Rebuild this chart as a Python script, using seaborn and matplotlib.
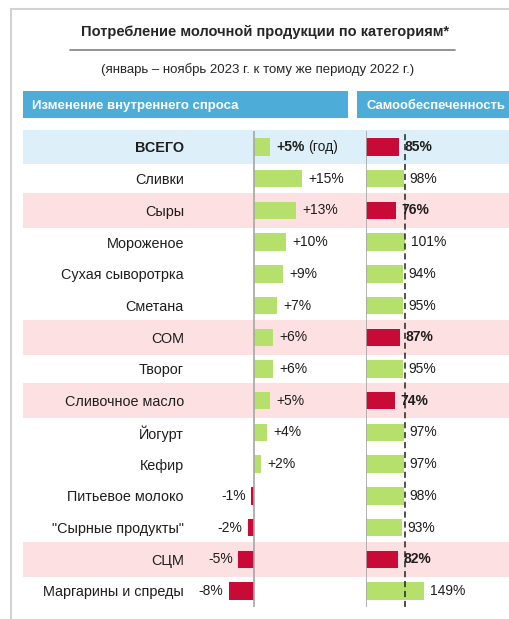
import numpy as np
import pandas as pd
import matplotlib
matplotlib.use("Agg")
import matplotlib.pyplot as plt
from matplotlib.patches import Rectangle
from matplotlib.lines import Line2D
import seaborn as sns

# Оформление
sns.set_style("white")
plt.rcParams['font.family'] = ['Liberation Sans', 'DejaVu Sans']

# Данные
categories = ['ВСЕГО', 'Сливки', 'Сыры', 'Мороженое', 'Сухая сыворотрка', 'Сметана', 'СОМ',
              'Творог', 'Сливочное масло', 'Йогурт', 'Кефир', 'Питьевое молоко',
              '"Сырные продукты"', 'СЦМ', 'Маргарины и спреды']
demand_change = [5, 15, 13, 10, 9, 7, 6, 6, 5, 4, 2, -1, -2, -5, -8]
self_sufficiency = [85, 98, 76, 101, 94, 95, 87, 95, 74, 97, 97, 98, 93, 82, 149]
row_type = ['total', '', 'low', '', '', '', 'low', '', 'low', '', '', '', '', 'low', '']

title = 'Потребление молочной продукции по категориям*'
subtitle = '(январь – ноябрь 2023 г. к тому же периоду 2022 г.)'
header_left = 'Изменение внутреннего спроса'
header_right = 'Самообеспеченность'

df = pd.DataFrame({'cat': categories, 'demand': demand_change,
                   'ss': self_sufficiency, 'row': row_type})
df['sign'] = np.where(df['demand'] >= 0, 'pos', 'neg')
df['flag'] = np.where(df['row'] != '', 'low', 'ok')

GREEN = '#B6E06C'
RED = '#C70B36'
BLUE = '#4EACD9'
BAND = {'total': '#DDF0FA', 'low': '#FDE1E2'}
AXGRAY = '#A6A6A6'
TXT = '#1E1E1E'

# Геометрия (в пикселях)
W, H = 510, 619
ROW = 31.71
Y0 = 147
n = len(categories)

fig = plt.figure(figsize=(W / 100, H / 100), dpi=100)


def fx(x):
    return x / W


def fy(y):
    return 1 - y / H


def axes_px(x0, x1, lo, hi):
    top = Y0 + lo * ROW
    bot = Y0 + hi * ROW
    return fig.add_axes([fx(x0), fy(bot), (x1 - x0) / W, (bot - top) / H])


# Рамка
fig.add_artist(Rectangle((fx(11), fy(640)), (530 - 11) / W, (640 - 8.5) / H,
                         transform=fig.transFigure, fill=False,
                         edgecolor='#D2D2D2', lw=1.5))

# Заголовки
fig.text(fx(265.5), fy(32), title, ha='center', va='center', fontsize=10.5,
         fontweight='bold', color='#262626')
fig.add_artist(Line2D([fx(70), fx(455)], [fy(50), fy(50)], color='#808080', lw=1.2,
                      transform=fig.transFigure))
fig.text(fx(257.5), fy(70), subtitle, ha='center', va='center', fontsize=9.5, color='#262626')

fig.add_artist(Rectangle((fx(23.3), fy(118.3)), (348.3 - 23.3) / W, (118.3 - 90.7) / H,
                         transform=fig.transFigure, color=BLUE, lw=0))
fig.add_artist(Rectangle((fx(356.7), fy(118.3)), (515 - 356.7) / W, (118.3 - 90.7) / H,
                         transform=fig.transFigure, color=BLUE, lw=0))
fig.text(fx(32), fy(104.5), header_left, color='white', fontweight='bold',
         fontsize=9.5, va='center_baseline')
fig.text(fx(367), fy(104.5), header_right, color='white', fontweight='bold',
         fontsize=9.4, va='center_baseline')

# Фоновые полосы
bg = axes_px(23.3, 512, -0.6, n - 1 + 0.6)
bg.set_xlim(0, 1)
bg.set_ylim(n - 1 + 0.6, -0.6)
bg.axis('off')
for i, t in enumerate(row_type):
    if t:
        bg.axhspan(i - 0.55, i + 0.55, color=BAND[t], lw=0)

# Левый график: изменение спроса
LPX = 3.2
zero_l = 254.3
xl = (-17, 30)
axL = axes_px(zero_l + xl[0] * LPX, zero_l + xl[1] * LPX, -0.5, n - 0.5)
sns.barplot(data=df, y='cat', x='demand', hue='sign', order=categories,
            palette={'pos': GREEN, 'neg': RED}, dodge=False, legend=False,
            width=0.55, saturation=1, linewidth=0, ax=axL)
axL.set_xlim(*xl)
axL.set_ylim(n - 0.5, -0.5)
axL.axvline(0, color=AXGRAY, lw=1.2)
axL.set_facecolor('none')
sns.despine(ax=axL, left=True, bottom=True)
axL.set(xlabel='', ylabel='')
axL.set_xticks([])
axL.tick_params(axis='y', length=0, pad=11.5, labelsize=10.4, labelcolor=TXT)
axL.get_yticklabels()[0].set_fontweight('bold')

for i, v in enumerate(demand_change):
    axL.annotate(f'{v:+d}%', xy=(v, i), xytext=(4.5 if v >= 0 else -4, 0),
                 textcoords='offset points', ha='left' if v >= 0 else 'right',
                 va='center', fontsize=10, color=TXT,
                 fontweight='bold' if i == 0 else 'normal')
axL.annotate('(год)', xy=(demand_change[0], 0), xytext=(27.5, 0),
             textcoords='offset points', ha='left', va='center', fontsize=10, color=TXT)

# Правый график: самообеспеченность
RPX = 0.39
zero_r = 366
xr = (0, 370)
axR = axes_px(zero_r, zero_r + xr[1] * RPX, -0.5, n - 0.5)
sns.barplot(data=df, y='cat', x='ss', hue='flag', order=categories,
            palette={'low': RED, 'ok': GREEN}, dodge=False, legend=False,
            width=0.55, saturation=1, linewidth=0, ax=axR)
axR.set_xlim(*xr)
axR.set_ylim(n - 0.5, -0.5)
axR.axvline(0, color=AXGRAY, lw=1.2)
axR.axvline(100, color='#222222', lw=1.1, ls=(0, (4, 2.5)))
axR.set_facecolor('none')
sns.despine(ax=axR, left=True, bottom=True)
axR.set(xlabel='', ylabel='')
axR.set_xticks([])
axR.tick_params(axis='y', left=False, labelleft=False)

for i, v in enumerate(self_sufficiency):
    low = df['flag'][i] == 'low'
    axR.annotate(f'{v}%', xy=(v, i), xytext=(4, 0), textcoords='offset points',
                 ha='left', va='center', fontsize=10, color=TXT,
                 fontweight='bold' if low else 'normal')

fig.savefig('out.png', dpi=100)
